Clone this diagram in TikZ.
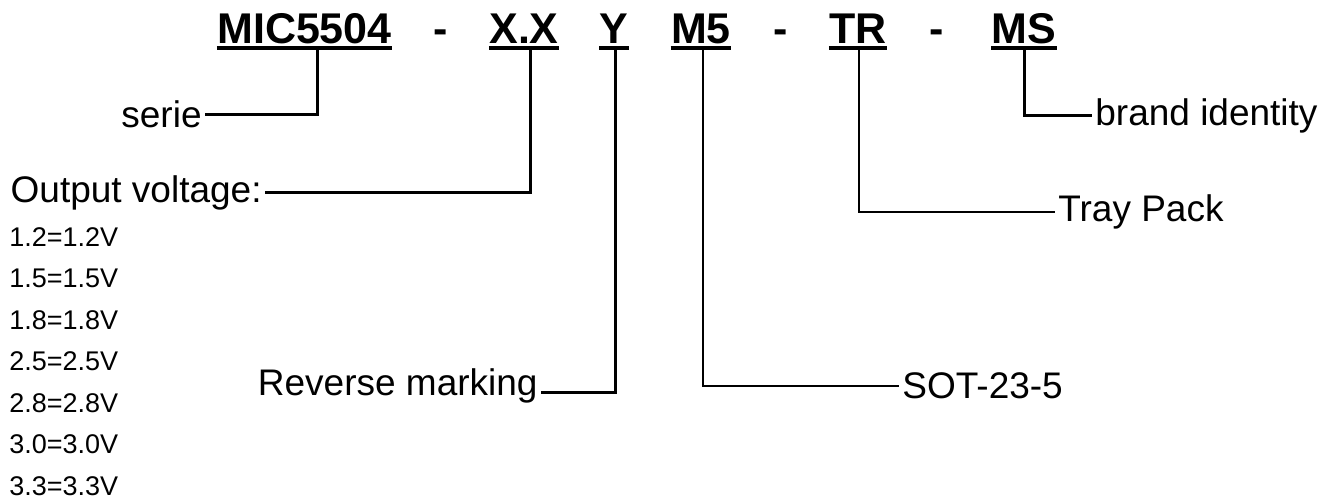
\documentclass[tikz,border=0pt]{standalone}
\usepackage{fontspec}
\setmainfont{Liberation Sans}
\begin{document}
\begin{tikzpicture}[x=0.5pt, y=-0.5pt,
part/.style={font=\fontsize{21.5}{26}\selectfont\bfseries, inner sep=0pt, anchor=base},
lbl/.style={font=\fontsize{18.5}{22}\selectfont, inner sep=1.5pt},
volt/.style={font=\fontsize{13.5}{16}\selectfont, inner sep=0pt, anchor=base west},
uline/.style={line width=2pt},
leader/.style={line width=1.5pt},
thin leader/.style={line width=1pt}]
\useasboundingbox (0,0) rectangle (1339,503);
\node[part] (mic) at (304.5,43) {MIC5504};
\node[part] (dasha) at (441,43) {-};
\node[part] (xx) at (524,43) {X.X};
\node[part] (rev) at (614,43) {Y};
\node[part] (mfive) at (701,43) {M5};
\node[part] (dashb) at (781,43) {-};
\node[part] (tr) at (858,43) {TR};
\node[part] (dashc) at (937,43) {-};
\node[part] (ms) at (1024,43) {MS};
\foreach \p in {mic,xx,rev,mfive,tr,ms}
  \draw[uline] ([yshift=-2.5pt]\p.base west) -- ([yshift=-2.5pt]\p.base east);
\coordinate (micdrop) at (317,48);
\coordinate (xxdrop) at (530,48);
\coordinate (revdrop) at (615,48);
\coordinate (mfivedrop) at (703,48);
\coordinate (trdrop) at (859,48);
\coordinate (msdrop) at (1024,48);
\node[lbl, anchor=mid east] (serie) at (205,122) {serie};
\node[lbl, anchor=mid east] (outv) at (265,197) {Output voltage:};
\node[lbl, anchor=base east] (revm) at (541,395) {Reverse marking};
\node[lbl, anchor=mid west] (sot) at (899,393) {SOT-23-5};
\node[lbl, anchor=mid west] (tray) at (1055,216) {Tray Pack};
\node[lbl, anchor=mid west] (brand) at (1092,120) {brand identity};
\draw[leader] (micdrop) |- (serie.east);
\draw[leader] (xxdrop) |- (outv.east);
\draw[leader] (revdrop) |- ([yshift=1.5pt]revm.base east);
\draw[thin leader] (mfivedrop) |- (sot.west);
\draw[thin leader] (trdrop) |- (tray.west);
\draw[leader] (msdrop) |- (brand.west);
\foreach \vv [count=\i from 0] in {1.2,1.5,1.8,2.5,2.8,3.0,3.3}
  \node[volt] (volt\i) at (9,246+41.5*\i) {\vv=\vv V};
\end{tikzpicture}
\end{document}
